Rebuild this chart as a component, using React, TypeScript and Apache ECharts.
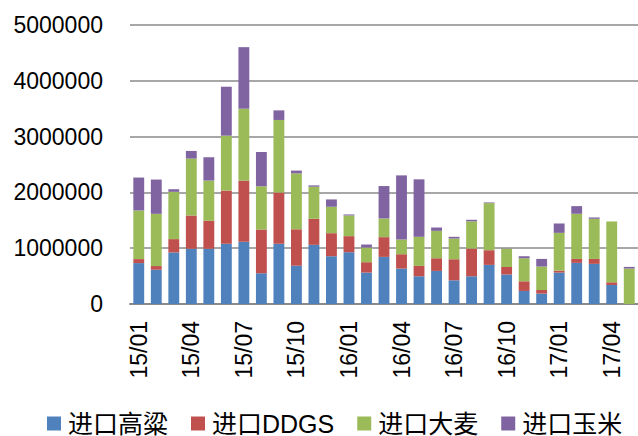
import React, { useEffect, useRef } from "react";
import * as echarts from "echarts";

const months = [
  "15/01", "15/02", "15/03", "15/04", "15/05", "15/06", "15/07", "15/08", "15/09", "15/10", "15/11", "15/12",
  "16/01", "16/02", "16/03", "16/04", "16/05", "16/06", "16/07", "16/08", "16/09", "16/10", "16/11", "16/12",
  "17/01", "17/02", "17/03", "17/04", "17/05",
];

const sorghum = [733000, 614000, 924000, 990000, 990000, 1079000, 1115000, 549000, 1079000, 686000, 1060000, 856000, 928000, 563000, 844000, 635000, 497000, 593000, 425000, 497000, 701000, 527000, 234000, 186000, 563000, 737000, 719000, 341000, 0];
const ddgs = [72000, 66000, 239000, 596000, 501000, 954000, 1097000, 787000, 919000, 653000, 467000, 413000, 288000, 186000, 354000, 257000, 186000, 227000, 377000, 497000, 263000, 138000, 173000, 65000, 36000, 71000, 89000, 48000, 0];
const barley = [871000, 936000, 847000, 1020000, 721000, 984000, 1288000, 775000, 1300000, 1002000, 575000, 474000, 371000, 263000, 335000, 264000, 521000, 491000, 372000, 488000, 844000, 323000, 413000, 420000, 676000, 809000, 719000, 1090000, 635000];
const corn = [590000, 614000, 47000, 137000, 418000, 877000, 1103000, 614000, 172000, 50000, 24000, 131000, 18000, 54000, 581000, 1149000, 1030000, 60000, 30000, 27000, 12000, 6000, 36000, 137000, 168000, 137000, 24000, 0, 30000];

const seriesNames = ["进口高粱", "进口DDGS", "进口大麦", "进口玉米"];
const seriesColors = ["#4F81BD", "#C0504D", "#9BBB59", "#8064A2"];
const seriesData = [sorghum, ddgs, barley, corn];

const FONT = "'Liberation Sans', 'Noto Sans CJK SC', sans-serif";

export default function App() {
  const ref = useRef<HTMLDivElement>(null);
  useEffect(() => {
    if (!ref.current) return;
    const chart = echarts.init(ref.current, null, { renderer: "svg" });
    chart.setOption({
      animation: false,
      backgroundColor: "#ffffff",
      grid: { left: 130, right: 0, top: 25, bottom: 132, containLabel: false },
      legend: {
        data: seriesNames,
        left: 47,
        top: 411,
        padding: 0,
        itemWidth: 14,
        itemHeight: 14,
        itemGap: 23,
        icon: "rect",
        textStyle: { fontSize: 25, color: "#000", fontFamily: FONT, padding: [0, 0, 0, 2] },
      },
      xAxis: {
        type: "category",
        data: months,
        axisLine: { lineStyle: { color: "#8a8a8a", width: 2 } },
        axisTick: { show: false },
        axisLabel: {
          interval: 2,
          rotate: 90,
          margin: 17,
          fontSize: 23,
          color: "#000",
          fontFamily: FONT,
        },
      },
      yAxis: {
        type: "value",
        min: 0,
        max: 5000000,
        interval: 1000000,
        axisLine: { show: false },
        axisTick: { show: false },
        splitLine: { lineStyle: { color: "#8a8a8a", width: 1.6 } },
        axisLabel: {
          fontSize: 23,
          color: "#000",
          fontFamily: FONT,
          margin: 27,
          formatter: (v: number) => String(v),
        },
      },
      series: seriesNames.map((name, i) => ({
        name,
        type: "bar",
        stack: "total",
        data: seriesData[i],
        barCategoryGap: "38%",
        itemStyle: { color: seriesColors[i] },
      })),
    });
    return () => chart.dispose();
  }, []);
  return <div ref={ref} style={{ position: "absolute", left: 0, top: 0, width: 638, height: 436 }} />;
}
